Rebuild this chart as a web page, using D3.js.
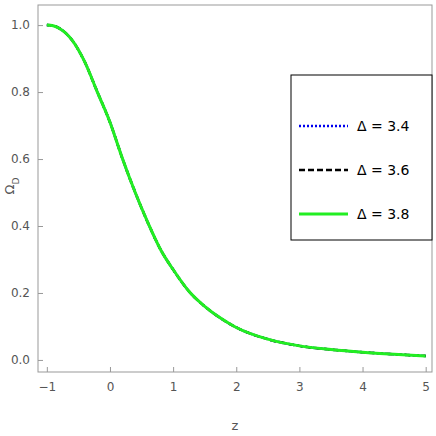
<!DOCTYPE html>
<html><head><meta charset="utf-8">
<script src="https://cdn.jsdelivr.net/npm/d3@7"></script>
<style>body{margin:0;background:#fff}text{font-family:"DejaVu Sans",sans-serif}</style>
</head><body><div id="chart"></div>
<script>
const zVals = [-1,-0.9,-0.8,-0.6,-0.4,-0.2,0,0.2,0.4,0.6,0.8,1,1.25,1.5,1.75,2,2.5,3,3.5,4,4.5,5];
const omega34 = [1.0,0.998,0.99,0.955,0.89,0.80,0.71,0.60,0.50,0.41,0.33,0.27,0.205,0.16,0.125,0.097,0.062,0.042,0.031,0.023,0.017,0.012];
const omega36 = omega34.slice();
const omega38 = omega34.slice();
const labels = ["Δ = 3.4","Δ = 3.6","Δ = 3.8"];
const xTicks = [-1,0,1,2,3,4,5], yTicks = [0,0.2,0.4,0.6,0.8,1.0];

const width = 436, height = 436, margin = {top: 5, right: 4, bottom: 64, left: 38};
const svg = d3.select("#chart").append("svg").attr("width", width).attr("height", height);

const x = d3.scaleLinear().domain([-1.14, 5.1]).range([margin.left, width - margin.right]);
const y = d3.scaleLinear().domain([-0.036, 1.06]).range([height - margin.bottom, margin.top]);

// frame
svg.append("rect").attr("x", margin.left).attr("y", margin.top)
  .attr("width", width - margin.left - margin.right).attr("height", height - margin.top - margin.bottom)
  .attr("fill", "none").attr("stroke", "#999");

const gray = "#555";
const xg = svg.append("g").attr("transform", `translate(0,${height - margin.bottom})`)
  .call(d3.axisBottom(x).tickValues(xTicks).tickSize(-5).tickSizeOuter(0).tickPadding(10).tickFormat(d => d < 0 ? "−" + (-d) : d));
const yg = svg.append("g").attr("transform", `translate(${margin.left},0)`)
  .call(d3.axisLeft(y).tickValues(yTicks).tickSize(-5).tickSizeOuter(0).tickPadding(8).tickFormat(d3.format(".1f")));
[xg, yg].forEach(g => {
  g.select(".domain").remove();
  g.selectAll("line").attr("stroke", "#999");
  g.selectAll("text").attr("fill", gray).attr("font-size", 12);
});

svg.append("text").attr("x", (margin.left + width - margin.right) / 2).attr("y", 430)
  .attr("text-anchor", "middle").attr("fill", gray).attr("font-size", 13).text("z");
svg.append("text").attr("transform", "translate(14,186) rotate(-90)").attr("text-anchor", "middle")
  .attr("fill", gray).attr("font-size", 13).html('Ω<tspan baseline-shift="sub" font-size="9">D</tspan>');

const line = d3.line().x((d, i) => x(zVals[i])).y(d => y(d)).curve(d3.curveMonotoneX);
const styles = [
  {data: omega34, color: "#0000ee", dash: "2,2", w: 2.5},
  {data: omega36, color: "#000", dash: "6,3", w: 2.5},
  {data: omega38, color: "#22ee22", dash: null, w: 3}
];
styles.forEach(s => svg.append("path").datum(s.data).attr("d", line).attr("fill", "none")
  .attr("stroke", s.color).attr("stroke-width", s.w).attr("stroke-dasharray", s.dash));

// legend
const lg = svg.append("g");
lg.append("rect").attr("x", 291).attr("y", 75).attr("width", 141).attr("height", 165)
  .attr("fill", "#fff").attr("stroke", "#000");
styles.forEach((s, i) => {
  const yy = 126 + i * 44;
  lg.append("line").attr("x1", 299).attr("x2", 348).attr("y1", yy).attr("y2", yy)
    .attr("stroke", s.color).attr("stroke-width", s.w).attr("stroke-dasharray", s.dash);
  lg.append("text").attr("x", 357).attr("y", yy + 5).attr("font-size", 14).attr("fill", "#000").text(labels[i]);
});
</script></body></html>
